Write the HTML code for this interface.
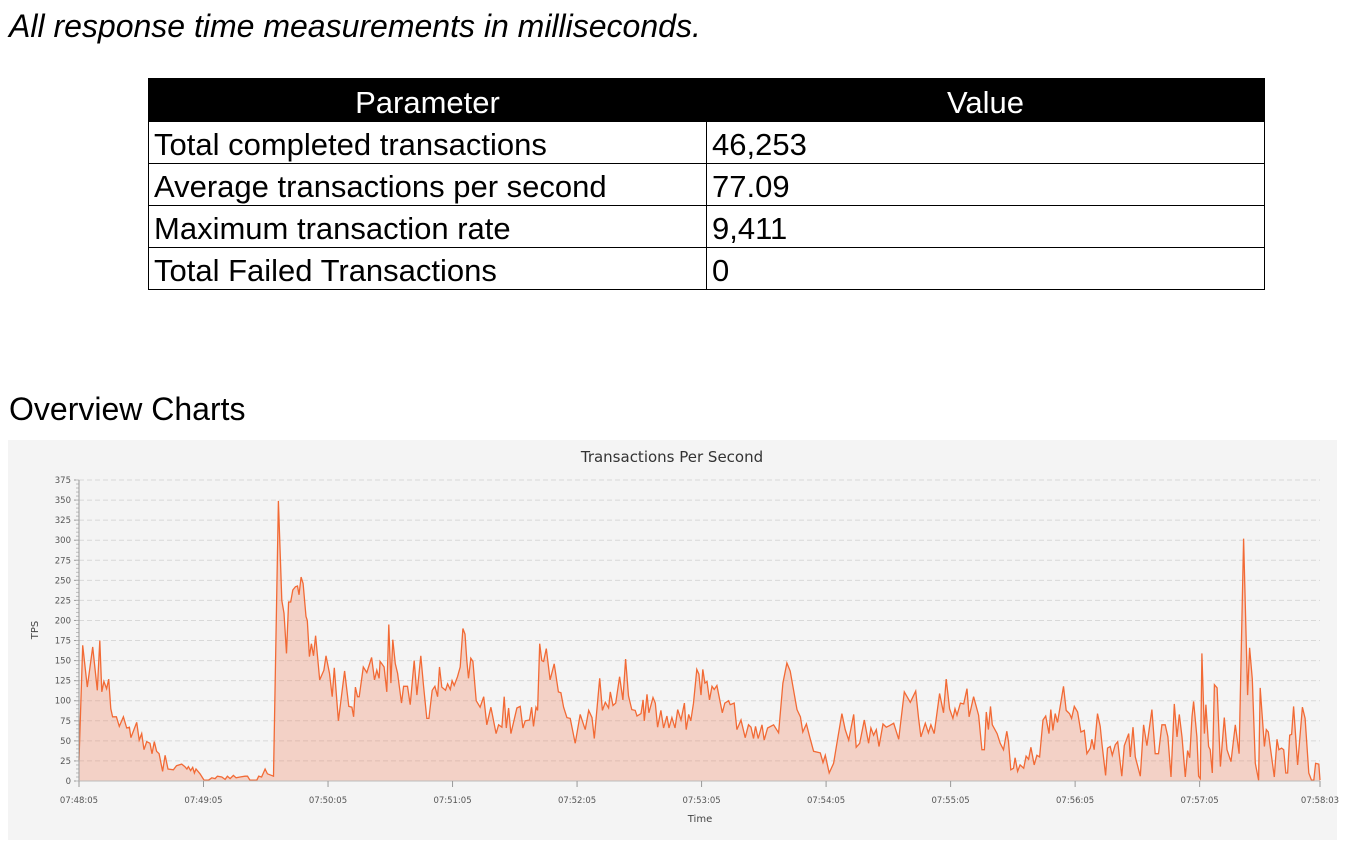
<!DOCTYPE html>
<html><head><meta charset="utf-8"><style>
body{margin:0;width:1347px;height:849px;background:#fff;font-family:"Liberation Sans",Arial,sans-serif;position:relative;overflow:hidden}
.note{position:absolute;left:9px;top:8px;font-size:32px;font-style:italic;color:#000}
table{position:absolute;left:148px;top:78px;border-collapse:collapse;width:1117px}
td,th{border:1.5px solid #000;height:41px;padding:4px 5px 0 5px;font-size:31px;line-height:37px;font-weight:normal;text-align:left;color:#000;box-sizing:border-box}
th{background:#000;color:#fff;text-align:center;height:43px}
.h2{position:absolute;left:9px;top:391px;font-size:32px}
svg{position:absolute;left:0;top:0}
</style></head><body>
<div class="note">All response time measurements in milliseconds.</div>
<table>
<tr><th style="width:558px">Parameter</th><th>Value</th></tr>
<tr><td>Total completed transactions</td><td>46,253</td></tr>
<tr><td>Average transactions per second</td><td>77.09</td></tr>
<tr><td>Maximum transaction rate</td><td>9,411</td></tr>
<tr><td>Total Failed Transactions</td><td>0</td></tr>
</table>
<div class="h2">Overview Charts</div>
<svg id="chart" width="1347" height="849"></svg>
<script>
const times=[0,1.8,4,6.6,8.8,10,11,12,13.3,14.3,15.3,16.2,18,19.4,21.4,23,24.3,25,27.8,29,30.2,31.3,32.6,34.2,35.2,36.3,37.4,38.6,40.3,41.5,42.9,45.5,47,49.5,51,52,52.7,53.8,54.8,55.6,56.4,58.3,60.3,62.4,64,65.6,66.7,68.8,70.4,71.5,72.8,74.4,75.7,77.6,80,81.2,82.4,85.7,86.6,88,89.7,90.8,93.7,96.1,97.7,98.8,100,101,102,103,104.3,105.3,106,107,108,109.4,110,111,112,113,114,116,118,119,120.7,122,123,125,128,130,131.5,132.3,133.2,134.2,135,137,138.7,141,142.4,143.5,144.6,145.1,147,148.3,149.3,150.3,151.2,152.4,153.5,155.4,156.4,158.3,159.6,161.5,162.8,164.7,166,167.6,168.6,170.2,171.5,172.8,173.7,174.8,176.6,177.6,178.9,179.8,180.8,182.4,183.7,185,186,186.9,187.7,188.8,189.8,191.4,193.3,195,196.5,198.5,201,202.2,203.8,204.9,205.9,207,208.1,211,212.6,213.9,215,217.1,218.1,219,220.2,221,222,223,223.9,225.2,227,229,231,232.2,233.5,235.1,236.7,239.1,241.5,243.9,245.6,247.2,248.3,250.9,252.2,253.6,255.2,256,257.3,258.6,260.5,262.1,263.4,264.8,266.4,268,268.9,270.8,271.8,272.4,273.7,274.6,276.6,277.7,278.8,280.4,281.7,283.3,284.3,285.7,287.2,288.5,290.1,291.7,292.6,293.8,294.8,296.1,297.7,298.7,299.7,300.6,301.6,302.6,303.8,305,306.1,307.4,310,311.2,313,313.8,315.7,317,319,321,322.6,323.8,325,326,327.3,329.1,330.2,331.8,334.7,337.1,339.2,341.1,342.7,346,347.6,348.8,350.5,352.1,354,357.2,358.5,359.6,361.5,363.6,365.2,367.6,369.2,370.9,373.3,374.5,376.2,378.4,380.5,381.6,382.9,384.2,385.5,387.4,389,390.6,392.6,395,397.7,400.6,403.2,404.6,405.7,407.8,409.3,410.5,412.1,414.7,416.6,417.9,419.5,421.1,422.1,423.1,424.7,426.3,427.9,428.9,431.1,433.5,435.1,436.3,437.2,438.2,439.2,440.1,442.4,443.9,445.5,447.1,447.9,449,450.3,451.1,452.3,453.5,455.2,456.4,457.6,458.7,460.3,461.6,462.9,464.5,465.8,467.4,468.3,469.3,470.4,471.5,472.8,474.4,475.7,477.3,478.3,479.6,481.2,482.8,484.4,485.7,487.3,488.1,489.2,490.8,492.1,492.9,494.7,495.6,496.9,497.9,499.3,500.5,502.5,503.7,505.8,506.6,507.9,509,511.4,513,514.6,517,518.6,520.2,521.8,523.4,524.7,526.2,527.8,529.1,530.2,531.5,533.1,534.2,535.2,536.3,537.1,538.7,539.5,540.3,541.1,542.3,543,544.3,545.1,546.1,547.1,548.4,550,551.9,553.2,555.1,557.2,559,561.2,563.1,564.1,565.4,566.8,568.4,569.2,571.2,572.1,573.1,574,576,577.3,578.2,579.5,580.5,581.5,582.4,583.4,584.3,585.3,587.2,589.5,590.8,592.6,593.9,595,595.9,597.4,598];
const tps=[26,169,117,167,113,175,111,124,115,127,90,80,80,68,80,66,67,54,73,51,59,39,49,47,34,49,37,34,12,32,15,14,19,21,18,15,18,13,17,10,15,9,1,1,4,3,6,5,2,6,3,7,4,5,6,6,1,1,6,5,15,9,6,349,225,209,159,223,223,238,242,243,232,254,246,205,200,155,171,156,181,126,138,156,134,105,141,75,137,93,92,80,117,105,105,142,135,154,126,138,128,149,142,111,195,122,176,146,134,97,118,118,95,150,107,156,119,78,78,113,118,105,142,117,113,121,114,125,119,130,142,190,183,149,128,153,149,100,92,105,70,92,59,70,67,105,66,91,59,91,93,66,75,76,92,68,92,88,171,150,149,165,126,146,111,110,92,79,78,47,83,64,88,79,53,128,88,98,91,111,94,97,130,101,152,106,89,88,81,84,101,75,108,85,104,97,67,88,66,81,66,79,66,89,76,97,64,83,75,97,139,133,107,139,122,124,101,118,114,119,85,97,100,95,97,64,76,54,70,67,53,68,53,70,51,66,70,60,122,147,137,89,80,61,71,55,37,35,23,32,10,22,47,84,64,51,83,42,47,76,47,66,57,64,43,71,67,69,72,52,111,98,112,78,55,72,60,70,59,109,85,127,90,78,90,82,97,96,115,80,105,82,39,39,86,64,93,70,59,47,39,62,49,14,16,29,12,20,16,31,27,42,20,32,30,76,81,59,89,63,84,73,93,118,88,84,78,93,86,61,63,34,41,52,39,84,68,47,7,41,43,32,45,49,6,44,59,30,67,30,6,70,44,89,34,34,70,70,55,5,96,55,83,55,5,38,29,80,99,55,6,3,159,59,95,43,39,10,120,116,18,79,39,24,70,34,302,107,166,127,22,1,116,43,64,61,43,5,52,39,41,39,10,10,57,58,93,20,92,78,10,1,1,22,21,1];
const yTicks=[0,25,50,75,100,125,150,175,200,225,250,275,300,325,350,375];
const xTickLabels=["07:48:05","07:49:05","07:50:05","07:51:05","07:52:05","07:53:05","07:54:05","07:55:05","07:56:05","07:57:05","07:58:03"];
const xTickSecs=[0,60,120,180,240,300,360,420,480,540,598];

const svg=document.getElementById('chart');const NS='http://www.w3.org/2000/svg';
const X0=79,X1=1320,Y0=781,Y1=480,TMAX=598,VMAX=375;
const sx=t=>X0+t/TMAX*(X1-X0), sy=v=>Y0-v/VMAX*(Y0-Y1);
function mk(tag,attrs,name,text){const e=document.createElementNS(NS,tag);for(const k in attrs)e.setAttribute(k,attrs[k]);


if(text!==undefined)e.textContent=text;svg.appendChild(e);return e;}
mk('rect',{x:8,y:440,width:1329,height:400,fill:'#f4f4f4'},'chart-background');
mk('text',{x:672,y:462,'font-size':15,fill:'#333','text-anchor':'middle','font-family':'DejaVu Sans, sans-serif'},'chart-title','Transactions Per Second');
yTicks.forEach(v=>{const y=sy(v);
 if(v>0)mk('line',{x1:X0,x2:X1,y1:y,y2:y,stroke:'#d8d8d8','stroke-dasharray':'5,3','stroke-width':1},'y-gridline');
 mk('line',{x1:X0-5,x2:X0,y1:y,y2:y,stroke:'#999'},'y-tick');
 mk('text',{x:X0-8,y:y+3,'font-size':8.5,fill:'#555','text-anchor':'end','font-family':'DejaVu Sans, sans-serif'},'y-tick-label',String(v));});
for(let v=0;v<=VMAX;v+=5){const y=sy(v);mk('line',{x1:X0-3,x2:X0,y1:y,y2:y,stroke:'#bbb'},'y-minor-tick');}
let d='M'+sx(times[0])+','+sy(0);times.forEach((t,i)=>{d+=' L'+sx(t).toFixed(1)+','+sy(tps[i]).toFixed(1);});
d+=' L'+sx(times[times.length-1])+','+sy(0)+' Z';
mk('path',{d:d,fill:'rgba(240,120,80,0.28)',stroke:'none'},'tps-area');
let l='';times.forEach((t,i)=>{l+=(i?' L':'M')+sx(t).toFixed(1)+','+sy(tps[i]).toFixed(1);});
mk('path',{d:l,fill:'none',stroke:'#f26a35','stroke-width':1.3},'tps-line');
mk('line',{x1:X0,x2:X0,y1:Y1,y2:Y0,stroke:'#999'},'y-axis');
mk('line',{x1:X0,x2:X1,y1:Y0,y2:Y0,stroke:'#bbb'},'x-axis');
xTickSecs.forEach((s,i)=>{const x=sx(s);
 mk('line',{x1:x,x2:x,y1:Y0,y2:Y0+6,stroke:'#999'},'x-tick');
 mk('text',{x:x,y:803,'font-size':8.5,fill:'#555','text-anchor':'middle','font-family':'DejaVu Sans, sans-serif'},'x-tick-label',xTickLabels[i]);});
mk('text',{x:700,y:822,'font-size':10,fill:'#444','text-anchor':'middle','font-family':'DejaVu Sans, sans-serif'},'x-axis-title','Time');
mk('text',{x:38,y:630,'font-size':10,fill:'#444','text-anchor':'middle','font-family':'DejaVu Sans, sans-serif',transform:'rotate(-90 38 630)'},'y-axis-title','TPS');
</script>
</body></html>
